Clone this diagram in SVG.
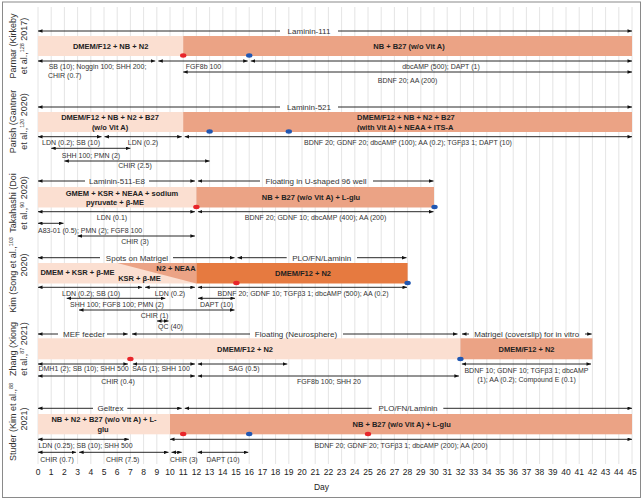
<svg xmlns="http://www.w3.org/2000/svg" width="644" height="501" viewBox="0 0 644 501">
<style>
.t{font-family:"Liberation Sans",Arial,sans-serif;font-size:7px;fill:#333}
.b{font-family:"Liberation Sans",Arial,sans-serif;font-size:7.5px;font-weight:bold;fill:#222}
.s{font-family:"Liberation Sans",Arial,sans-serif;font-size:8px;fill:#333}
.r{font-family:"Liberation Sans",Arial,sans-serif;font-size:9px;fill:#333}
.x{font-family:"Liberation Sans",Arial,sans-serif;font-size:8.5px;fill:#222}
.m{text-anchor:middle}
.lt{fill:#fbdfd1}
.dk{fill:#eba385}
.or{fill:#e67a40}
.rd{fill:#e8252a}
.bl{fill:#2157b2}
.a{stroke:#111;stroke-width:0.9;fill:none}
.ab{marker-start:url(#ah);marker-end:url(#ah)}
.as{marker-start:url(#ah)}
.ae{marker-end:url(#ah)}
</style>
<defs>
<marker id="ah" viewBox="0 0 10 8" refX="10" refY="4" markerWidth="4.6" markerHeight="3.6" markerUnits="userSpaceOnUse" orient="auto-start-reverse"><path d="M0,0 L10,4 L0,8 z" fill="#111"/></marker>
</defs>
<rect x="0" y="0" width="644" height="501" fill="#fff"/>
<rect x="2.5" y="2" width="638" height="495.5" fill="none" stroke="#8a8a8a" stroke-width="1"/>
<g id="grid" stroke="#dddddd" stroke-width="0.8">
<path d="M38 7V464M51.2 7V464M64.4 7V464M77.6 7V464M90.8 7V464M104 7V464M117.2 7V464M130.4 7V464M143.6 7V464M156.8 7V464M170 7V464M183.2 7V464M196.4 7V464M209.6 7V464M222.8 7V464M236 7V464M249.2 7V464M262.4 7V464M275.6 7V464M288.8 7V464M302 7V464M315.2 7V464M328.4 7V464M341.6 7V464M354.8 7V464M368 7V464M381.2 7V464M394.4 7V464M407.6 7V464M420.8 7V464M434 7V464M447.2 7V464M460.4 7V464M473.6 7V464M486.8 7V464M500 7V464M513.2 7V464M526.4 7V464M539.6 7V464M552.8 7V464M566 7V464M579.2 7V464M592.4 7V464M605.6 7V464M618.8 7V464M632 7V464"/>
</g>

<g id="row-parmar">
<text class="r m" transform="translate(16.2,46) rotate(-90)">Parmar (Kirkeby<tspan x="0" dy="11">et al.,</tspan><tspan font-size="5.5" dy="-3">128</tspan><tspan dy="3"> 2017)</tspan></text>
<g id="parmar-bar1"><rect x="38" y="36" width="145.2" height="20" class="lt"/><text class="b m" x="110.6" y="48.7">DMEM/F12 + NB + N2</text></g>
<g id="parmar-bar2"><rect x="183.2" y="36" width="448.8" height="20" class="dk"/><text class="b m" x="409" y="48.7">NB + B27 (w/o Vit A)</text></g>
<ellipse cx="183.2" cy="55.5" rx="3.2" ry="2.2" class="rd"/>
<ellipse cx="249.2" cy="55.5" rx="3.2" ry="2.2" class="bl"/>
<text class="s m" x="309" y="33.9">Laminin-111</text>
<text class="t m" x="97.5" y="68.5">SB (10); Noggin 100; SHH 200;</text>
<text class="t" x="48" y="77.8">CHIR (0.7)</text>
<text class="t m" x="203.5" y="68.5">FGF8b 100</text>
<text class="t m" x="441" y="68.5">dbcAMP (500); DAPT (1)</text>
<text class="t m" x="407.5" y="82.5">BDNF 20; AA (200)</text>
</g>

<g id="row-parish">
<text class="r m" transform="translate(16.2,121.5) rotate(-90)">Parish (Gantner<tspan x="0" dy="11">et al.,</tspan><tspan font-size="5.5" dy="-3">120</tspan><tspan dy="3"> 2020)</tspan></text>
<g id="parish-bar1"><rect x="38" y="112" width="145.2" height="20" class="lt"/><text class="b m" x="110" y="119.7">DMEM/F12 + NB + N2 + B27</text><text class="b m" x="110" y="129.7">(w/o Vit A)</text></g>
<g id="parish-bar2"><rect x="183.2" y="112" width="448.8" height="20" class="dk"/><text class="b" x="357" y="119.7">DMEM/F12 + NB + N2 + B27</text><text class="b" x="357" y="129.7">(with Vit A) + NEAA + ITS-A</text></g>
<ellipse cx="209.6" cy="131.5" rx="3.2" ry="2.2" class="bl"/>
<ellipse cx="288.8" cy="131.5" rx="3.2" ry="2.2" class="bl"/>
<text class="s m" x="309" y="109.6">Laminin-521</text>
<text class="t m" x="71" y="144.8">LDN (0.2); SB (10)</text>
<text class="t m" x="143" y="144.8">LDN (0.2)</text>
<text class="t m" x="408" y="144.8">BDNF 20; GDNF 20; dbcAMP (100); AA (0.2); TGFβ3 1; DAPT (10)</text>
<text class="t m" x="91" y="158">SHH 100; PMN (2)</text>
<text class="t m" x="135" y="167.5">CHIR (2.5)</text>
</g>

<g id="row-takahashi">
<text class="r m" transform="translate(16.2,203) rotate(-90)">Takahashi (Doi<tspan x="0" dy="11">et al.,</tspan><tspan font-size="5.5" dy="-3">90</tspan><tspan dy="3"> 2020)</tspan></text>
<g id="takahashi-bar1"><rect x="38" y="187" width="158.4" height="20.5" class="lt"/><text class="b m" x="122" y="196">GMEM + KSR + NEAA + sodium</text><text class="b m" x="115" y="205.4">pyruvate + β-ME</text></g>
<g id="takahashi-bar2"><rect x="196.4" y="187" width="237.6" height="20.5" class="dk"/><text class="b m" x="311" y="200">NB + B27 (w/o Vit A) + L-glu</text></g>
<ellipse cx="196.4" cy="207" rx="3.2" ry="2.2" class="rd"/>
<ellipse cx="434.5" cy="207" rx="3.2" ry="2.2" class="bl"/>
<text class="s m" x="117" y="183.9">Laminin-511-E8</text>
<text class="s m" x="316" y="183.9">Floating in U-shaped 96 well</text>
<text class="t m" x="112" y="219.5">LDN (0.1)</text>
<text class="t m" x="315.5" y="219.5">BDNF 20; GDNF 10; dbcAMP (400); AA (200)</text>
<text class="t" x="38" y="232.5">A83-01 (0.5); PMN (2); FGF8 100</text>
<text class="t m" x="135" y="244">CHIR (3)</text>
</g>

<g id="row-kim">
<text class="r m" transform="translate(16.2,275) rotate(-90)">Kim (Song et al.,<tspan font-size="5.5" dy="-3">103</tspan></text>
<text class="r m" transform="translate(27.2,265) rotate(-90)">2020)</text>
<g id="kim-bar1"><rect x="38" y="263" width="158.4" height="20.5" class="lt"/><text class="b m" x="77.5" y="275">DMEM + KSR + β-ME</text><text class="b m" x="139.5" y="280.7">KSR + β-ME</text></g>
<g id="kim-bar2"><polygon points="117.2,263 196.4,263 196.4,283.5" class="dk"/><text class="b m" x="176" y="271">N2 + NEAA</text></g>
<g id="kim-bar3"><rect x="196.4" y="263" width="211.2" height="20.5" class="or"/><text class="b m" x="303" y="275.7">DMEM/F12 + N2</text></g>
<ellipse cx="236.4" cy="283" rx="3.2" ry="2.2" class="rd"/>
<ellipse cx="407.6" cy="283" rx="3.2" ry="2.2" class="bl"/>
<text class="s m" x="137" y="260.6">Spots on Matrigel</text>
<text class="s m" x="321.7" y="260.6">PLO/FN/Laminin</text>
<text class="t m" x="91" y="295.8">LDN (0.2); SB (10)</text>
<text class="t m" x="170" y="295.8">LDN (0.2)</text>
<text class="t m" x="303" y="295.8">BDNF 20; GDNF 10; TGFβ3 1; dbcAMP (500); AA (0.2)</text>
<text class="t m" x="117" y="306.8">SHH 100; FGF8 100; PMN (2)</text>
<text class="t m" x="216.5" y="306.8">DAPT (10)</text>
<text class="t m" x="154.5" y="317.5">CHIR (1)</text>
<text class="t m" x="170.5" y="329">QC (40)</text>
</g>

<g id="row-zhang">
<text class="r m" transform="translate(16.2,349) rotate(-90)">Zhang (Xiong<tspan x="0" dy="11">et al.,</tspan><tspan font-size="5.5" dy="-3">87</tspan><tspan dy="3"> 2021)</tspan></text>
<g id="zhang-bar1"><rect x="38" y="338.3" width="422.4" height="21" class="lt"/><text class="b m" x="245" y="351.7">DMEM/F12 + N2</text></g>
<g id="zhang-bar2"><rect x="460.4" y="338.3" width="132" height="21" class="dk"/><text class="b m" x="526.5" y="351.7">DMEM/F12 + N2</text></g>
<ellipse cx="130.4" cy="359" rx="3.2" ry="2.2" class="rd"/>
<ellipse cx="460.4" cy="359" rx="3.2" ry="2.2" class="bl"/>
<text class="s m" x="84" y="336.9">MEF feeder</text>
<text class="s m" x="296" y="336.9">Floating (Neurosphere)</text>
<text class="s m" x="526.7" y="336.9">Matrigel (coverslip) for in vitro</text>
<text class="t m" x="83.6" y="370.8">DMH1 (2); SB (10); SHH 500</text>
<text class="t m" x="161" y="370.8">SAG (1); SHH 100</text>
<text class="t m" x="244" y="370.8">SAG (0.5)</text>
<text class="t m" x="526.5" y="372.5">BDNF 10; GDNF 10; TGFβ3 1; dbcAMP</text>
<text class="t m" x="526.5" y="381.8">(1); AA (0.2); Compound E (0.1)</text>
<text class="t m" x="118" y="384.2">CHIR (0.4)</text>
<text class="t m" x="329" y="384.2">FGF8b 100; SHH 20</text>
</g>

<g id="row-studer">
<text class="r m" transform="translate(16.2,422) rotate(-90)">Studer (Kim et al.,<tspan font-size="5.5" dy="-3">88</tspan></text>
<text class="r m" transform="translate(27.2,419) rotate(-90)">2021)</text>
<g id="studer-bar1"><rect x="38" y="414" width="132" height="20.3" class="lt"/><text class="b m" x="104" y="422">NB + N2 + B27 (w/o Vit A) + L-</text><text class="b m" x="103" y="432">glu</text></g>
<g id="studer-bar2"><rect x="170" y="414" width="462" height="20.3" class="dk"/><text class="b m" x="401.7" y="427">NB + B27 (w/o Vit A) + L-glu</text></g>
<ellipse cx="183.2" cy="434" rx="3.2" ry="2.2" class="rd"/>
<ellipse cx="249.2" cy="434" rx="3.2" ry="2.2" class="bl"/>
<ellipse cx="368" cy="434" rx="3.2" ry="2.2" class="rd"/>
<text class="s m" x="110.5" y="411.2">Geltrex</text>
<text class="s m" x="408" y="411.2">PLO/FN/Laminin</text>
<text class="t m" x="85.5" y="447.5">LDN (0.25); SB (10); SHH 500</text>
<text class="t m" x="401" y="447.5">BDNF 20; GDNF 20; TGFβ3 1; dbcAMP (200); AA (200)</text>
<text class="t m" x="57" y="461.5">CHIR (0.7)</text>
<text class="t m" x="122.7" y="461.5">CHIR (7.5)</text>
<text class="t" x="170" y="461.5">CHIR (3)</text>
<text class="t m" x="223" y="461.5">DAPT (10)</text>
</g>

<g id="connectors">
<path class="a as" d="M38 31H280"/><path class="a ae" d="M338 31H632"/>
<path class="a ab" d="M38 61H155.3"/><path class="a ab" d="M158.3 61H247.7"/><path class="a ab" d="M250.7 61H632"/>
<path class="a ab" d="M183.2 72H632"/>
<path class="a as" d="M38 107H280"/><path class="a ae" d="M338 107H632"/>
<path class="a ab" d="M38 136.7H101.5"/><path class="a ab" d="M104.5 136.7H181.7"/><path class="a ab" d="M184.7 136.7H632"/>
<path class="a ab" d="M51.2 148.3H130.4"/>
<path class="a ab" d="M64.4 161H209.6"/>
<path class="a as" d="M38 181H85"/><path class="a ae" d="M149 181H194.9"/>
<path class="a as" d="M197.9 181H260"/><path class="a ae" d="M373 181H433.5"/>
<path class="a ab" d="M38 211.7H194.9"/><path class="a ab" d="M197.9 211.7H433.5"/>
<path class="a ab" d="M38 223.3H63.5"/>
<path class="a ab" d="M77.6 236H194.9"/>
<path class="a as" d="M38 257.7H100"/><path class="a ae" d="M173 257.7H234.5"/>
<path class="a as" d="M237.5 257.7H286.7"/><path class="a ae" d="M357 257.7H406.5"/>
<path class="a ab" d="M38 287.3H142.1"/><path class="a ab" d="M145.1 287.3H194.9"/><path class="a ab" d="M197.9 287.3H407"/>
<path class="a ab" d="M66.7 298.3H165.3"/><path class="a ab" d="M198 298.3H235"/>
<path class="a ab" d="M79 310H234.5"/>
<path class="a ab" d="M157 321H168.5"/>
<path class="a as" d="M38 334H58"/><path class="a ae" d="M107 334H127.7"/>
<path class="a as" d="M132 334H250"/><path class="a ae" d="M343 334H457.5"/>
<path class="a as" d="M462 334H469"/><path class="a ae" d="M585 334H591.7"/>
<path class="a ab" d="M38 364H127.9"/><path class="a ab" d="M132.9 364H194.9"/><path class="a ab" d="M197.9 364H287.3"/><path class="a ab" d="M461.9 364H591"/>
<path class="a ab" d="M38 376H194.9"/><path class="a ab" d="M197.9 376H458.9"/>
<path class="a as" d="M38 408.3H93"/><path class="a ae" d="M127.3 408.3H181.7"/>
<path class="a as" d="M184.7 408.3H371.7"/><path class="a ae" d="M443.3 408.3H632"/>
<path class="a ab" d="M38 439.3H128.9"/><path class="a ab" d="M170 439.3H632"/>
<path class="a ab" d="M38 452.3H76.1"/><path class="a ab" d="M79.1 452.3H168.5"/><path class="a ab" d="M171.5 452.3H181.7"/><path class="a ab" d="M197.7 452.3H248.3"/>
</g>

<g id="axis" class="x m">
<text x="38" y="474.5">0</text><text x="51.2" y="474.5">1</text><text x="64.4" y="474.5">2</text><text x="77.6" y="474.5">3</text><text x="90.8" y="474.5">4</text><text x="104" y="474.5">5</text><text x="117.2" y="474.5">6</text><text x="130.4" y="474.5">7</text><text x="143.6" y="474.5">8</text><text x="156.8" y="474.5">9</text><text x="170" y="474.5">10</text><text x="183.2" y="474.5">11</text><text x="196.4" y="474.5">12</text><text x="209.6" y="474.5">13</text><text x="222.8" y="474.5">14</text><text x="236" y="474.5">15</text><text x="249.2" y="474.5">16</text><text x="262.4" y="474.5">17</text><text x="275.6" y="474.5">18</text><text x="288.8" y="474.5">19</text><text x="302" y="474.5">20</text><text x="315.2" y="474.5">21</text><text x="328.4" y="474.5">22</text><text x="341.6" y="474.5">23</text><text x="354.8" y="474.5">24</text><text x="368" y="474.5">25</text><text x="381.2" y="474.5">26</text><text x="394.4" y="474.5">27</text><text x="407.6" y="474.5">28</text><text x="420.8" y="474.5">29</text><text x="434" y="474.5">30</text><text x="447.2" y="474.5">31</text><text x="460.4" y="474.5">32</text><text x="473.6" y="474.5">33</text><text x="486.8" y="474.5">34</text><text x="500" y="474.5">35</text><text x="513.2" y="474.5">36</text><text x="526.4" y="474.5">37</text><text x="539.6" y="474.5">38</text><text x="552.8" y="474.5">39</text><text x="566" y="474.5">40</text><text x="579.2" y="474.5">41</text><text x="592.4" y="474.5">42</text><text x="605.6" y="474.5">43</text><text x="618.8" y="474.5">44</text><text x="632" y="474.5">45</text>
<text x="321.5" y="490">Day</text>
</g>
</svg>
